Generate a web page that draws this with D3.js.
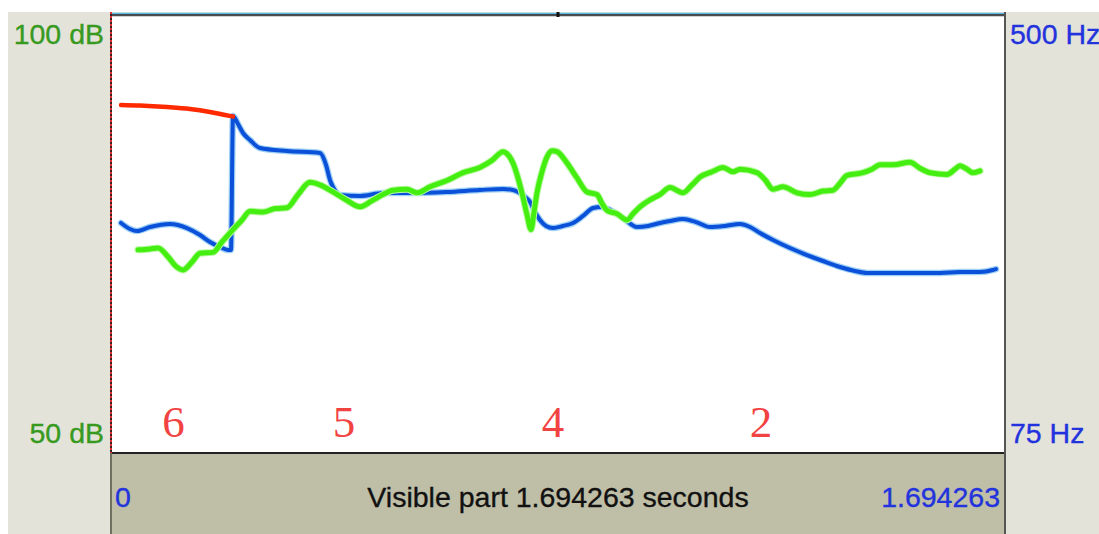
<!DOCTYPE html>
<html>
<head>
<meta charset="utf-8">
<script src="https://d3js.org/d3.v7.min.js"></script>
<style>
  html, body { margin: 0; padding: 0; background: #ffffff; }
  svg { display: block; }
</style>
</head>
<body>
<script>
// Time axis (seconds)
const tStart = 0;
const tEnd = 1.694263;

// Axis ranges
const dbRange = [50, 100];
const hzRange = [75, 500];

// Intensity contour (dB)
const intensityTimes = [0.0512,0.0739,0.0891,0.1080,0.1232,0.1365,0.1535,0.1687,0.1933,0.2104,0.2312,0.2483,0.2634,0.2881,0.3108,0.3335,0.3544,0.3771,0.3961,0.4207,0.4454,0.4719,0.4946,0.5155,0.5344,0.5610,0.5799,0.6046,0.6368,0.6671,0.6993,0.7221,0.7429,0.7543,0.7618,0.7713,0.7808,0.7884,0.7960,0.8017,0.8073,0.8168,0.8263,0.8358,0.8452,0.8642,0.8831,0.9021,0.9210,0.9305,0.9400,0.9590,0.9779,0.9893,1.0025,1.0215,1.0404,1.0594,1.0840,1.1011,1.1162,1.1390,1.1598,1.1788,1.1920,1.2243,1.2394,1.2546,1.2735,1.3001,1.3247,1.3493,1.3683,1.3816,1.3948,1.4251,1.4422,1.4574,1.4820,1.5142,1.5332,1.5521,1.5843,1.5995,1.6090,1.6222,1.6336,1.6469];
const intensityDb = [73.2,73.3,73.4,72.4,71.3,70.9,71.8,72.8,72.9,74.1,75.5,76.6,77.6,77.5,77.9,78.0,79.5,80.9,80.6,79.8,78.9,78.1,78.8,79.5,80.0,80.1,79.7,80.4,81.1,82.0,82.6,83.4,84.4,83.9,83.1,81.4,79.2,77.2,75.5,77.5,79.7,82.1,83.8,84.5,84.4,83.1,81.4,79.8,79.5,78.5,77.7,77.3,76.6,77.3,78.1,78.9,79.5,80.3,79.7,80.6,81.5,82.1,82.6,82.1,82.4,82.0,81.2,80.1,80.4,79.7,79.5,79.9,80.0,80.8,81.7,82.0,82.4,82.9,82.9,83.2,82.5,82.0,81.8,82.4,82.8,82.4,82.0,82.2];

// Pitch contour (Hz)
const pitchTimes = [0.0190,0.0360,0.0493,0.0739,0.1118,0.1440,0.1687,0.1876,0.2066,0.2217,0.2274,0.2312,0.2407,0.2502,0.2634,0.2824,0.3335,0.3961,0.4075,0.4150,0.4207,0.4340,0.4719,0.5155,0.5723,0.6368,0.6993,0.7429,0.7618,0.7751,0.7846,0.7941,0.8035,0.8130,0.8244,0.8377,0.8566,0.8756,0.8945,0.9135,0.9286,0.9457,0.9703,0.9969,1.0177,1.0404,1.0594,1.0840,1.1087,1.1352,1.1636,1.1920,1.2110,1.2300,1.2546,1.2868,1.3190,1.3493,1.3816,1.4100,1.4327,1.4953,1.5711,1.6090,1.6469,1.6715,1.6772];
const pitchHz = [298.2,292.4,290.4,294.3,297.2,293.3,286.5,279.7,274.9,272.0,272.0,402.0,394.2,385.5,378.7,370.9,368.0,366.1,354.5,339.9,333.1,325.3,324.4,327.3,327.3,328.3,330.2,331.2,330.2,327.3,323.4,318.6,308.8,301.1,295.3,293.3,295.3,298.2,305.0,312.7,313.7,310.8,303.0,294.3,295.3,298.2,300.1,302.1,299.1,294.3,295.3,297.2,294.3,288.5,281.7,273.9,267.1,261.3,255.5,251.6,249.7,249.7,249.7,250.6,250.6,252.6,253.5];

// Alternative pitch segment at the start (Hz)
const altPitchTimes = [0.0190,0.0550,0.1061,0.1497,0.1876,0.2160,0.2312];
const altPitchHz = [412.7,412.2,410.7,408.8,405.9,403.0,401.5];

// Tone labels and their positions (s)
const toneLabels = ["6", "5", "4", "2"];
const toneTimes = [0.1184, 0.4416, 0.8377, 1.2318];

const W = 1099, H = 534;
const plotLeft = 111, plotRight = 1005, plotTop = 15, plotBottom = 453;

const svg = d3.select("body").append("svg")
  .attr("width", W).attr("height", H);

const x = d3.scaleLinear([tStart, tEnd], [plotLeft, plotRight]);
const yDb = d3.scaleLinear(dbRange, [plotBottom, plotTop]);
const yHz = d3.scaleLinear(hzRange, [plotBottom, plotTop]);

// Window background
svg.append("rect").attr("x", 8).attr("y", 12).attr("width", W - 8).attr("height", H - 12)
  .attr("fill", "#e4e3d9");

// Plot area
svg.append("rect").attr("x", plotLeft).attr("y", 13).attr("width", plotRight - plotLeft).attr("height", plotBottom - 13)
  .attr("fill", "#ffffff");

// Bottom information bar
svg.append("rect").attr("x", plotLeft).attr("y", plotBottom + 1).attr("width", plotRight - plotLeft).attr("height", H - plotBottom - 1)
  .attr("fill", "#bfbea6");

// Top edge: light blue line over a dark line
svg.append("line").attr("x1", plotLeft).attr("x2", plotRight).attr("y1", 13.5).attr("y2", 13.5)
  .attr("stroke", "#5ab8e8").attr("stroke-width", 1.5);
svg.append("line").attr("x1", plotLeft).attr("x2", plotRight).attr("y1", 15).attr("y2", 15)
  .attr("stroke", "#111").attr("stroke-width", 1.5);
svg.append("line").attr("x1", plotLeft).attr("x2", plotRight).attr("y1", 16.5).attr("y2", 16.5)
  .attr("stroke", "#d0d0d0").attr("stroke-width", 1);
// Cursor mark at the top edge
svg.append("rect").attr("x", x(tEnd / 2) - 1.5).attr("y", 12).attr("width", 3).attr("height", 5)
  .attr("fill", "#111");

// Bottom edge of the plot
svg.append("line").attr("x1", plotLeft).attr("x2", plotRight).attr("y1", plotBottom).attr("y2", plotBottom)
  .attr("stroke", "#222").attr("stroke-width", 2);

// Right edge
svg.append("line").attr("x1", plotRight).attr("x2", plotRight).attr("y1", 12).attr("y2", H)
  .attr("stroke", "#555").attr("stroke-width", 2);

// Left edge: dark line with red dashes in the plot, grey below
svg.append("line").attr("x1", plotLeft).attr("x2", plotLeft).attr("y1", 12).attr("y2", plotBottom)
  .attr("stroke", "#3a2222").attr("stroke-width", 2);
svg.append("line").attr("x1", plotLeft).attr("x2", plotLeft).attr("y1", 12).attr("y2", plotBottom)
  .attr("stroke", "#e03030").attr("stroke-width", 2).attr("stroke-dasharray", "2,2");
svg.append("line").attr("x1", plotLeft).attr("x2", plotLeft).attr("y1", plotBottom).attr("y2", H)
  .attr("stroke", "#707060").attr("stroke-width", 2);

// Contours
svg.append("clipPath").attr("id", "plotclip")
  .append("rect").attr("x", plotLeft + 1).attr("y", 16).attr("width", plotRight - plotLeft - 2).attr("height", plotBottom - 17);
const g = svg.append("g").attr("clip-path", "url(#plotclip)");

const pitchLine = d3.line().x(d => x(d[0])).y(d => yHz(d[1])).curve(d3.curveMonotoneX);
const dbLine = d3.line().x(d => x(d[0])).y(d => yDb(d[1])).curve(d3.curveMonotoneX);

const pitchPts = d3.zip(pitchTimes, pitchHz);
const altPts = d3.zip(altPitchTimes, altPitchHz);
const dbPts = d3.zip(intensityTimes, intensityDb);

// Pitch (blue) with a soft halo
g.append("path").attr("d", pitchLine(pitchPts)).attr("fill", "none")
  .attr("stroke", "#9fd0f5").attr("stroke-width", 6.5).attr("stroke-linejoin", "round").attr("stroke-linecap", "round");
g.append("path").attr("d", pitchLine(pitchPts)).attr("fill", "none")
  .attr("stroke", "#0a50d8").attr("stroke-width", 4).attr("stroke-linejoin", "round").attr("stroke-linecap", "round");

// Intensity (green)
g.append("path").attr("d", dbLine(dbPts)).attr("fill", "none")
  .attr("stroke", "#b8f8a0").attr("stroke-width", 7).attr("stroke-linejoin", "round").attr("stroke-linecap", "round");
g.append("path").attr("d", dbLine(dbPts)).attr("fill", "none")
  .attr("stroke", "#44ee10").attr("stroke-width", 5).attr("stroke-linejoin", "round").attr("stroke-linecap", "round");

// Alternative pitch segment (red)
g.append("path").attr("d", pitchLine(altPts)).attr("fill", "none")
  .attr("stroke", "#ff2a00").attr("stroke-width", 4.5).attr("stroke-linejoin", "round").attr("stroke-linecap", "round");

// Tone labels
svg.append("g").selectAll("text").data(toneLabels).join("text")
  .attr("x", (d, i) => x(toneTimes[i]))
  .attr("y", 437)
  .attr("text-anchor", "middle")
  .attr("font-family", "'Liberation Serif', 'DejaVu Serif', serif")
  .attr("font-size", 45)
  .attr("fill", "#f24343")
  .text(d => d);

// Axis labels
const sans = "'Liberation Sans', Arial, Helvetica, sans-serif";
function label(txt, xx, yy, anchor, color) {
  svg.append("text").attr("x", xx).attr("y", yy).attr("text-anchor", anchor)
    .attr("font-family", sans).attr("font-size", 28.5).attr("fill", color)
    .attr("stroke", color).attr("stroke-width", 0.35).text(txt);
}
label(dbRange[1] + " dB", 104, 44, "end", "#379a1e");
label(dbRange[0] + " dB", 104, 443, "end", "#379a1e");
label(hzRange[1] + " Hz", 1010, 44, "start", "#2233dd");
label(hzRange[0] + " Hz", 1010, 443, "start", "#2233dd");

label(String(tStart), 115, 507, "start", "#2233dd");
label(String(tEnd), 1000, 507, "end", "#2233dd");
label("Visible part " + tEnd + " seconds", (plotLeft + plotRight) / 2, 507, "middle", "#111");
</script>
</body>
</html>
